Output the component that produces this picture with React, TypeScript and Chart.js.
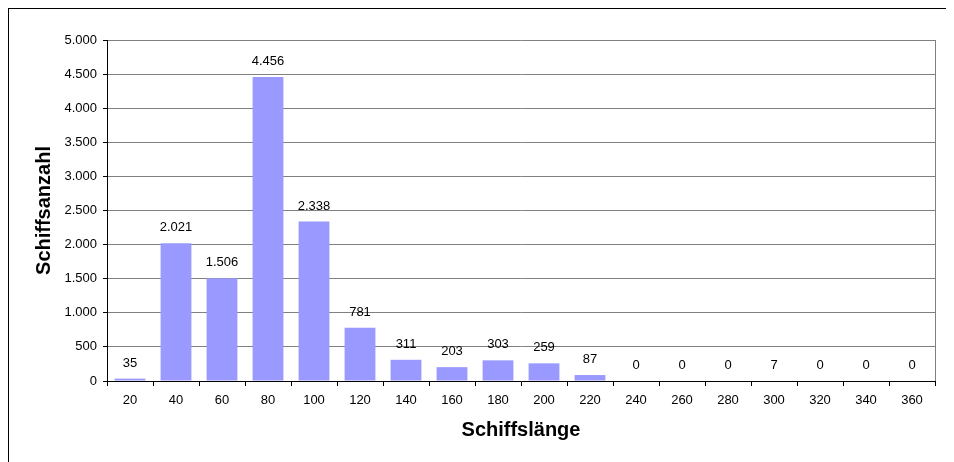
import React, { useEffect, useRef } from "react";
import { Chart, registerables } from "chart.js";

Chart.register(...registerables);

const categories = ["20", "40", "60", "80", "100", "120", "140", "160", "180", "200", "220", "240", "260", "280", "300", "320", "340", "360"];
const shipCounts = [35, 2021, 1506, 4456, 2338, 781, 311, 203, 303, 259, 87, 0, 0, 0, 7, 0, 0, 0];
const yMin = 0;
const yMax = 5000;
const yStep = 500;
const xTitle = "Schiffslänge";
const yTitle = "Schiffsanzahl";

const FONT = "'Liberation Sans', Arial, sans-serif";

function fmt(v: number): string {
  const s = String(Math.round(v));
  return s.replace(/\B(?=(\d{3})+(?!\d))/g, ".");
}

const labelPlugin = {
  id: "barLabels",
  afterDatasetsDraw(chart: any) {
    const ctx = chart.ctx;
    const meta = chart.getDatasetMeta(0);
    ctx.save();
    ctx.font = `13px ${FONT}`;
    ctx.fillStyle = "#000";
    ctx.textAlign = "center";
    ctx.textBaseline = "middle";
    meta.data.forEach((el: any, i: number) => {
      const v = chart.data.datasets[0].data[i] as number;
      ctx.fillText(fmt(v), el.x, el.y - 15.5);
    });
    ctx.restore();
  },
};

const borderPlugin = {
  id: "plotBorder",
  afterDraw(chart: any) {
    const { ctx, chartArea } = chart;
    ctx.save();
    ctx.strokeStyle = "#808080";
    ctx.lineWidth = 1;
    ctx.beginPath();
    const x = Math.round(chartArea.right) + 0.5;
    ctx.moveTo(x, chartArea.top);
    ctx.lineTo(x, chartArea.bottom);
    ctx.stroke();
    ctx.restore();
  },
};

export default function App() {
  const ref = useRef<HTMLCanvasElement | null>(null);
  useEffect(() => {
    document.documentElement.style.overflow = "hidden";
    document.body.style.overflow = "hidden";
    if (!ref.current) return;
    const chart = new Chart(ref.current, {
      type: "bar",
      data: {
        labels: categories,
        datasets: [
          {
            data: shipCounts,
            backgroundColor: "#9999FF",
            borderWidth: 0,
            barPercentage: 0.67,
            categoryPercentage: 1,
          },
        ],
      },
      options: {
        responsive: false,
        animation: false,
        devicePixelRatio: 1,
        layout: { padding: { top: 31, right: 19, left: 0, bottom: 0 } },
        plugins: {
          legend: { display: false },
          tooltip: { enabled: false },
        },
        scales: {
          x: {
            afterFit(scale: any) {
              scale.height = 81;
            },
            grid: {
              offset: true,
              drawOnChartArea: false,
              drawTicks: true,
              tickLength: 5,
              color: "#000",
            },
            border: { color: "#000", width: 1 },
            ticks: {
              color: "#000",
              padding: 7,
              maxRotation: 0,
              autoSkip: false,
              font: { family: FONT, size: 13 },
            },
            title: {
              display: true,
              text: xTitle,
              color: "#000",
              font: { family: FONT, size: 20, weight: "bold" },
              padding: { top: 0, bottom: 20 },
            },
          },
          y: {
            min: yMin,
            max: yMax,
            afterFit(scale: any) {
              scale.width = 98;
            },
            grid: {
              color: "#808080",
              tickColor: "#000",
              tickLength: 4,
              drawTicks: true,
            },
            border: { color: "#000", width: 1 },
            ticks: {
              stepSize: yStep,
              color: "#000",
              padding: 6,
              font: { family: FONT, size: 13 },
              callback: (v: any) => fmt(Number(v)),
            },
            title: {
              display: true,
              text: yTitle,
              color: "#000",
              font: { family: FONT, size: 20, weight: "bold" },
              padding: { top: 23, bottom: 0 },
            },
          },
        },
      },
      plugins: [labelPlugin, borderPlugin],
    });
    return () => chart.destroy();
  }, []);
  return (
    <div
      style={{
        width: 946,
        height: 454,
        borderTop: "1px solid #000",
        borderLeft: "1px solid #000",
        boxSizing: "border-box",
        background: "#fff",
      }}
    >
      <canvas ref={ref} width={945} height={453} style={{ display: "block" }} />
    </div>
  );
}
